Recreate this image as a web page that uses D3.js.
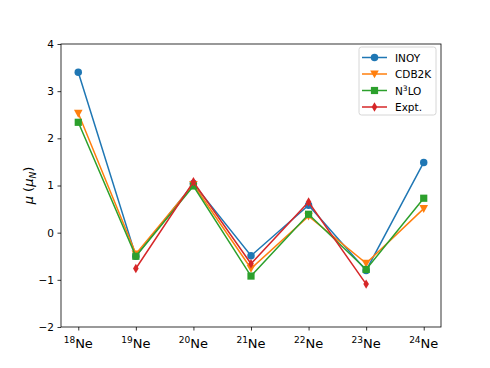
<!DOCTYPE html>
<html>
<head>
<meta charset="utf-8">
<script src="https://cdn.jsdelivr.net/npm/d3@7"></script>
<style>
  body { margin: 0; background: #fff; }
  svg { font-family: "DejaVu Sans", sans-serif; }
</style>
</head>
<body>
<div id="chart"></div>
<script>
// isotopes along the x axis
var isotopes = ["18", "19", "20", "21", "22", "23", "24"];

// magnetic moments (mu_N), null where there is no value
var inoy  = [3.40, -0.50, 1.04, -0.49, 0.58, -0.80, 1.49];
var cdb2k = [2.53, -0.45, 1.02, -0.76, 0.35, -0.65, 0.51];
var n3lo  = [2.34, -0.50, 0.99, -0.92, 0.39, -0.78, 0.73];
var expt  = [null, -0.76, 1.08, -0.66, 0.65, -1.09, null];

var yTicks = [-2, -1, 0, 1, 2, 3, 4];

var series = [
  { name: "INOY",  values: inoy,  color: "#1f77b4", marker: "circle" },
  { name: "CDB2K", values: cdb2k, color: "#ff7f0e", marker: "tridown" },
  { name: "N3LO",  values: n3lo,  color: "#2ca02c", marker: "square" },
  { name: "Expt.", values: expt,  color: "#d62728", marker: "thindiamond" }
];

var svgWidth = 490, svgHeight = 368;
var margin = { top: 44, right: 49, bottom: 41, left: 61 };
var width = svgWidth - margin.left - margin.right;
var height = svgHeight - margin.top - margin.bottom;

var svg = d3.select("#chart").append("svg")
  .attr("width", svgWidth)
  .attr("height", svgHeight);

var g = svg.append("g")
  .attr("transform", `translate(${margin.left},${margin.top})`);

// matplotlib style 5% padding on x
var x = d3.scaleLinear().domain([-0.3, 6.3]).range([0, width]);
var y = d3.scaleLinear().domain([-2, 4]).range([height, 0]);

// frame
g.append("rect")
  .attr("width", width).attr("height", height)
  .attr("fill", "none").attr("stroke", "#000").attr("stroke-width", 0.8);

// y axis
var yAxis = g.append("g")
  .call(d3.axisLeft(y).tickValues(yTicks).tickSize(3.5).tickPadding(3.5)
    .tickFormat(d => d < 0 ? "\u2212" + Math.abs(d) : d));
yAxis.select(".domain").remove();
yAxis.selectAll("line").attr("stroke-width", 0.8);
yAxis.selectAll("text").attr("font-size", "10.5px").attr("fill", "#000")
  .attr("font-family", "DejaVu Sans");

// x axis
var xAxis = g.append("g")
  .attr("transform", `translate(0,${height})`)
  .call(d3.axisBottom(x).tickValues(d3.range(isotopes.length)).tickSize(3.5).tickFormat(""));
xAxis.select(".domain").remove();
xAxis.selectAll("line").attr("stroke-width", 0.8);

var xLabels = g.append("g").selectAll("text")
  .data(isotopes)
  .join("text")
  .attr("x", (d, i) => x(i))
  .attr("y", height + 21)
  .attr("text-anchor", "middle")
  .attr("font-family", "DejaVu Sans")
  .attr("fill", "#000");
xLabels.append("tspan").attr("font-size", "9px").attr("dy", "-5").text(d => d);
xLabels.append("tspan").attr("font-size", "13px").attr("dy", "5").text("Ne");

// y label
var yLab = svg.append("text")
  .attr("transform", `translate(33,${margin.top + height / 2}) rotate(-90)`)
  .attr("text-anchor", "middle")
  .attr("font-family", "DejaVu Sans")
  .attr("font-size", "13px")
  .attr("fill", "#000");
yLab.append("tspan").attr("font-style", "italic").text("\u03bc");
yLab.append("tspan").text(" (");
yLab.append("tspan").attr("font-style", "italic").text("\u03bc");
yLab.append("tspan").attr("font-style", "italic").attr("font-size", "9px").attr("dy", "3").text("N");
yLab.append("tspan").attr("dy", "-3").text(")");

// marker path builder
function markerPath(type) {
  if (type === "circle") return d3.symbol(d3.symbolCircle, 44)();
  if (type === "square") return "M-3.6,-3.6H3.6V3.6H-3.6Z";
  if (type === "tridown") return "M-4.3,-3.5L4.3,-3.5L0,4.3Z";
  if (type === "thindiamond") return "M0,-4.7L2.8,0L0,4.7L-2.8,0Z";
}

var line = d3.line()
  .defined(d => d != null)
  .x((d, i) => x(i))
  .y(d => y(d));

series.forEach(function (s) {
  g.append("path")
    .datum(s.values)
    .attr("fill", "none")
    .attr("stroke", s.color)
    .attr("stroke-width", 1.5)
    .attr("d", line);

  g.selectAll(null)
    .data(s.values.map((v, i) => ({ v: v, i: i })).filter(d => d.v != null))
    .enter()
    .append("path")
    .attr("transform", d => `translate(${x(d.i)},${y(d.v)})`)
    .attr("d", markerPath(s.marker))
    .attr("fill", s.color);
});

// legend
var legend = svg.append("g").attr("transform", "translate(359,47)");
legend.append("rect")
  .attr("width", 77).attr("height", 68).attr("rx", 2.5)
  .attr("fill", "#fff").attr("fill-opacity", 0.8)
  .attr("stroke", "#ccc").attr("stroke-width", 0.8);

var items = legend.selectAll("g.item")
  .data(series)
  .join("g")
  .attr("class", "item")
  .attr("transform", (d, i) => `translate(0,${10.5 + i * 16.5})`);

items.append("line")
  .attr("x1", 3).attr("x2", 28)
  .attr("stroke", d => d.color).attr("stroke-width", 1.5);
items.append("path")
  .attr("transform", "translate(15.5,0)")
  .attr("d", d => markerPath(d.marker))
  .attr("fill", d => d.color);

var legText = items.append("text")
  .attr("x", 36).attr("y", 4)
  .attr("font-family", "DejaVu Sans")
  .attr("font-size", "10.5px")
  .attr("fill", "#000");
legText.each(function (d) {
  var t = d3.select(this);
  if (d.name === "N3LO") {
    t.append("tspan").text("N");
    t.append("tspan").attr("font-size", "7.5px").attr("dy", "-4").text("3");
    t.append("tspan").attr("dy", "4").text("LO");
  } else {
    t.text(d.name);
  }
});
</script>
</body>
</html>
